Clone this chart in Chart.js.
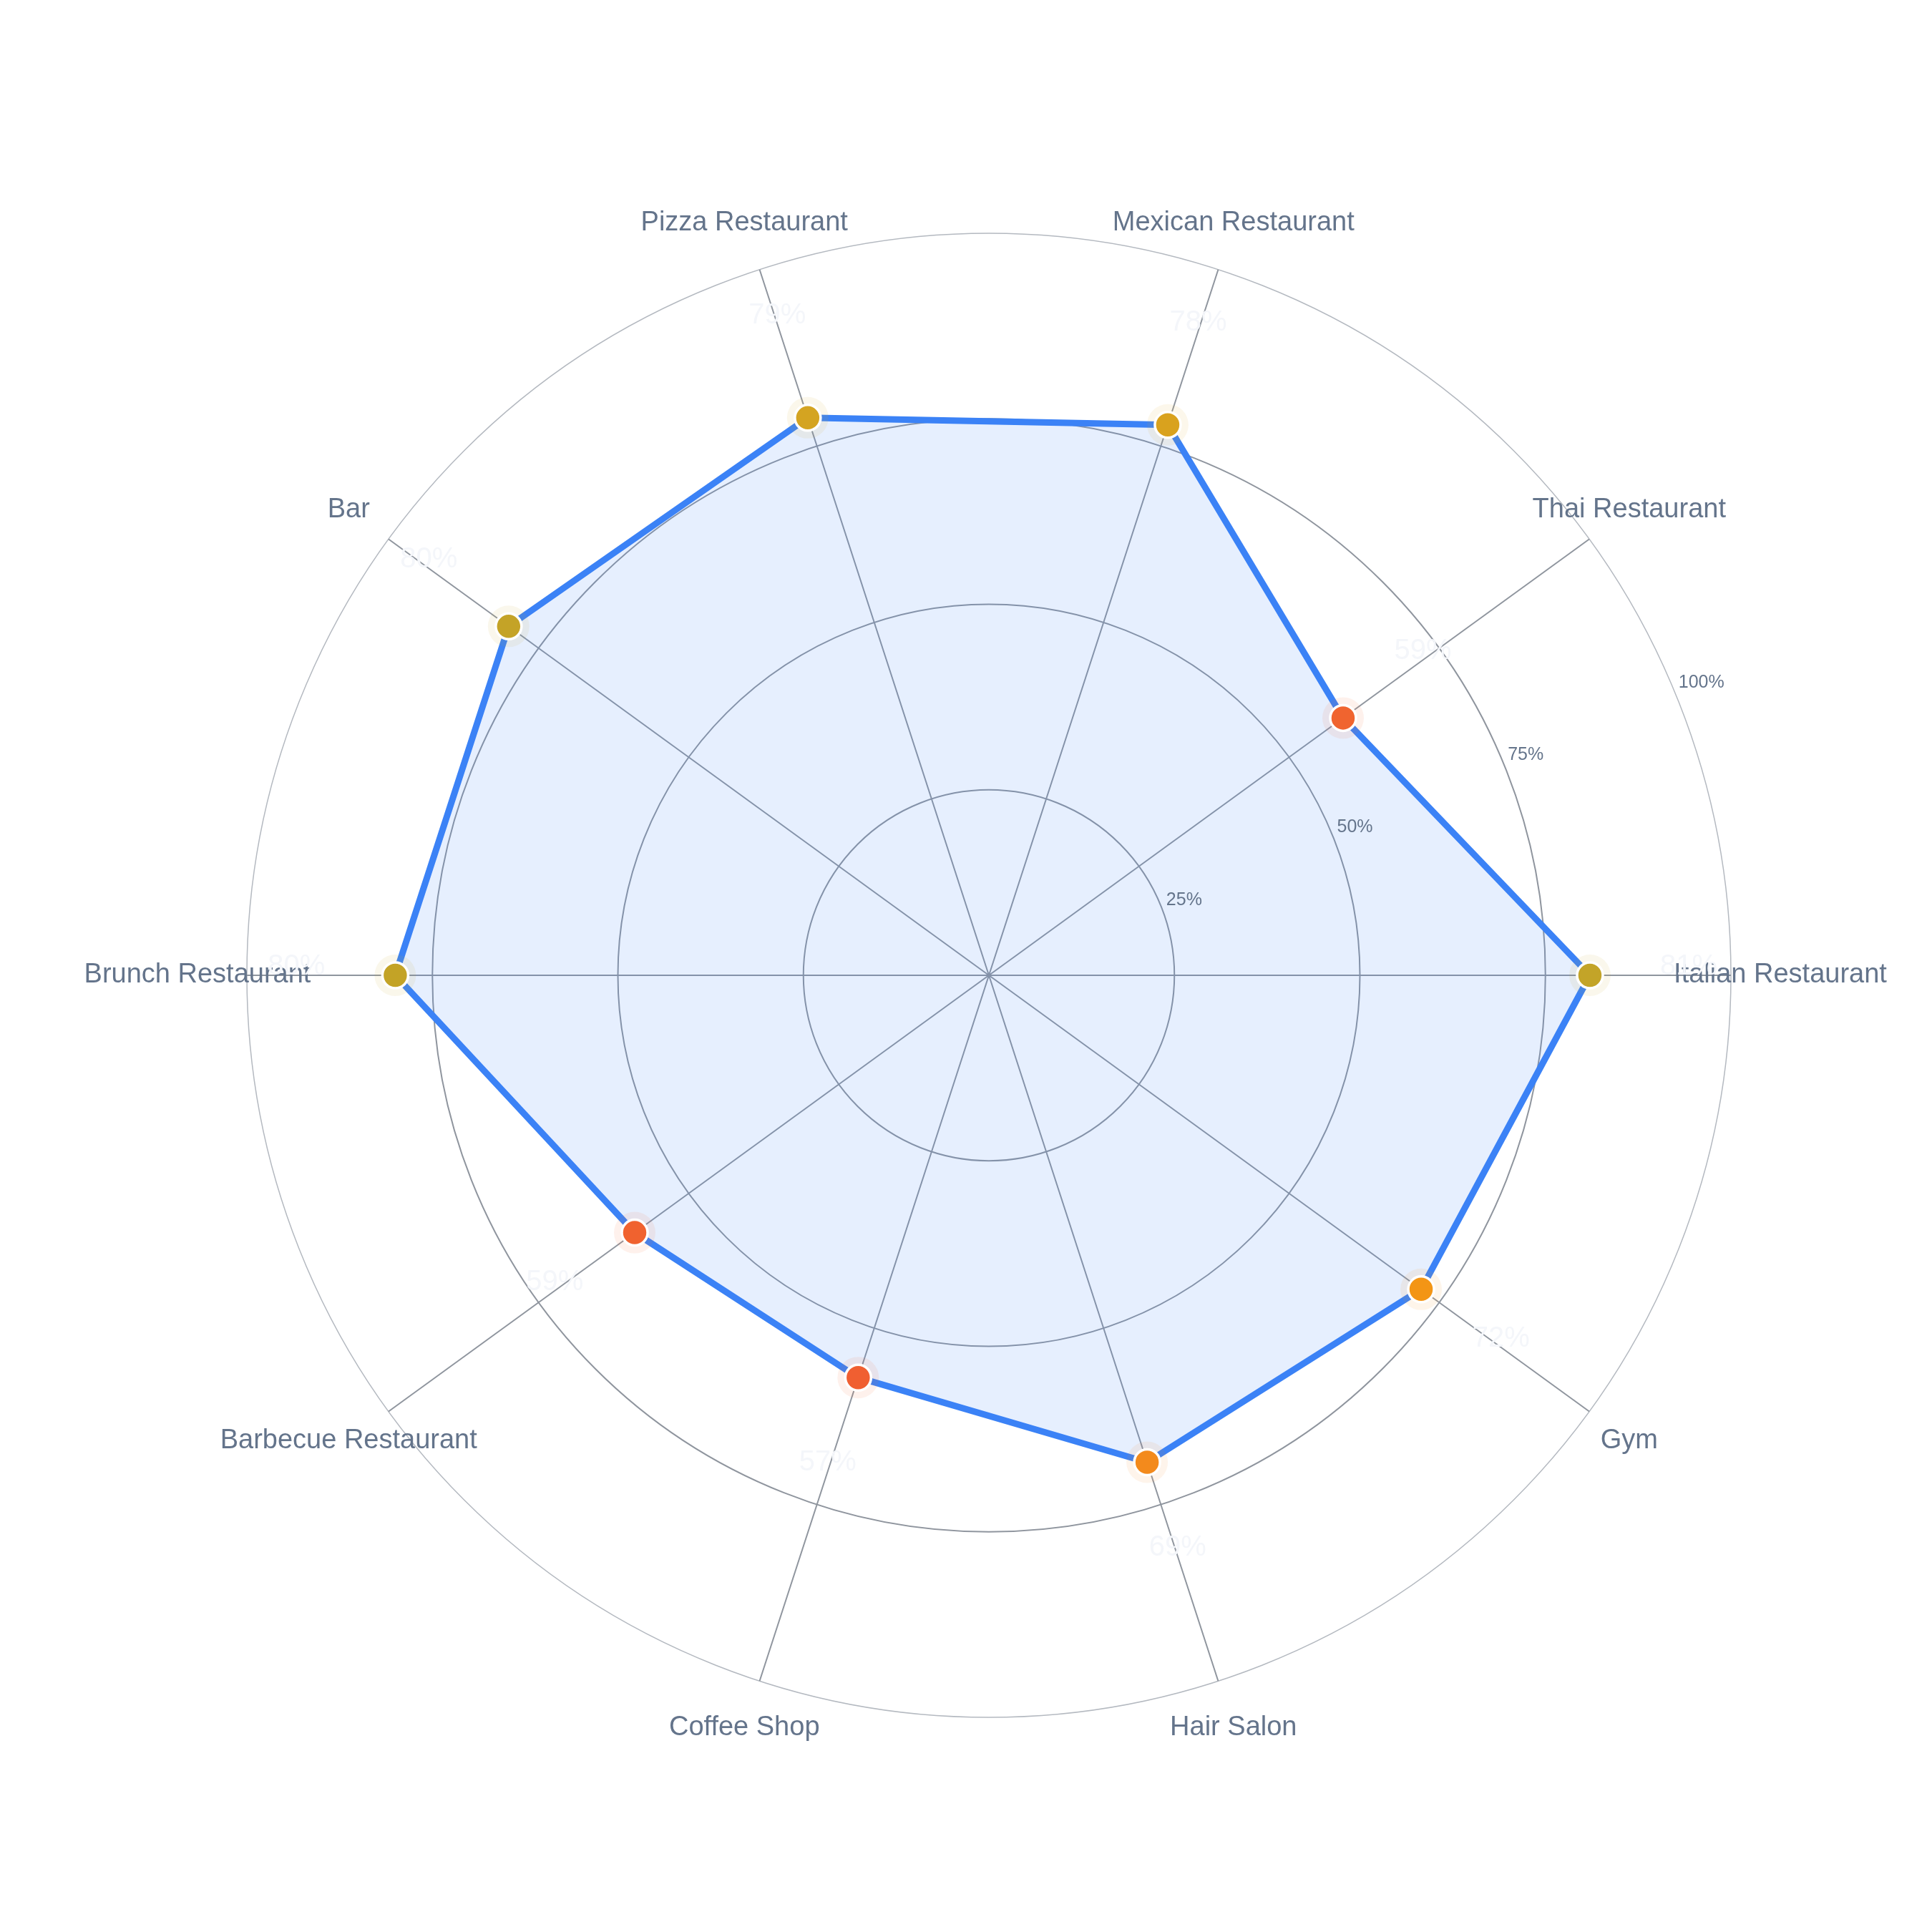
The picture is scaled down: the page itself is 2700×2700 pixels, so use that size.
<!DOCTYPE html>
<html>
<head>
<meta charset="utf-8">
<script src="https://cdn.jsdelivr.net/npm/chart.js@4.4.1/dist/chart.umd.min.js"></script>
<style>
  html, body { margin: 0; padding: 0; background: #ffffff; }
  #wrap { width: 2700px; height: 2700px; }
</style>
</head>
<body>
<div id="wrap"><canvas id="radarChart" width="2700" height="2700"></canvas></div>
<script>
// categories as they appear, counter-clockwise from the right
const categories = [
  "Italian Restaurant", "Thai Restaurant", "Mexican Restaurant", "Pizza Restaurant", "Bar",
  "Brunch Restaurant", "Barbecue Restaurant", "Coffee Shop", "Hair Salon", "Gym"
];
const scores = [81, 59, 78, 79, 80, 80, 59, 57, 69, 72];
const tickValues = [25, 50, 75, 100];
const tickLabels = ["25%", "50%", "75%", "100%"];
const pointColors = [
  "#c3a428", "#f0642f", "#d9a21e", "#d4a421", "#c4a327",
  "#c3a326", "#f0622f", "#f05f31", "#f38a1c", "#f39515"
];

// Chart.js walks clockwise, the reference goes counter-clockwise
const order = [0, 9, 8, 7, 6, 5, 4, 3, 2, 1];
const chartLabels = order.map((i) => categories[i]);
const chartScores = order.map((i) => scores[i]);
const chartColors = order.map((i) => pointColors[i]);

function withAlpha(hex, a) {
  const n = parseInt(hex.slice(1), 16);
  return `rgba(${(n >> 16) & 255}, ${(n >> 8) & 255}, ${n & 255}, ${a})`;
}

const FONT = "'Liberation Sans', Arial, Helvetica, sans-serif";

const labelPlugin = {
  id: "labelPlugin",
  afterDatasetsDraw(chart) {
    const r = chart.scales.r;
    const ctx = chart.ctx;
    ctx.save();

    // radial tick labels, along a ray slightly above the right axis
    ctx.font = `25px ${FONT}`;
    ctx.fillStyle = "#64748b";
    ctx.textAlign = "left";
    ctx.textBaseline = "middle";
    const a = (-23.0 * Math.PI) / 180;
    tickValues.forEach((v, i) => {
      const d = r.getDistanceFromCenterForValue(v) + 10;
      ctx.fillText(tickLabels[i], r.xCenter + Math.cos(a) * d, r.yCenter + Math.sin(a) * d);
    });

    // category labels
    ctx.font = `38px ${FONT}`;
    ctx.textAlign = "center";
    chartLabels.forEach((lab, i) => {
      const p = r.getPointPosition(i, r.drawingArea + 69);
      ctx.fillText(lab, p.x, p.y);
    });

    // faint value labels
    ctx.font = `40px ${FONT}`;
    ctx.fillStyle = "#f4f6fa";
    chartScores.forEach((v, i) => {
      const p = r.getPointPosition(i, r.getDistanceFromCenterForValue(v) + 138);
      ctx.fillText(v + "%", p.x, p.y - 12);
    });

    ctx.restore();
  },
};

const ctxRadar = document.getElementById("radarChart").getContext("2d");

const radarChart = new Chart(ctxRadar, {
  type: "radar",
  data: {
    labels: chartLabels,
    datasets: [
      {
        label: "line",
        data: chartScores,
        borderColor: "#3b82f6",
        borderWidth: 9,
        backgroundColor: "rgba(59, 130, 246, 0.13)",
        fill: true,
        pointRadius: 0,
        borderJoinStyle: "round",
        order: 3,
      },
      {
        label: "halo",
        data: chartScores,
        showLine: false,
        fill: false,
        backgroundColor: "transparent",
        pointRadius: 29,
        pointBorderWidth: 0,
        pointBackgroundColor: chartColors.map((c) => withAlpha(c, 0.09)),
        order: 2,
      },
      {
        label: "points",
        data: chartScores,
        showLine: false,
        fill: false,
        backgroundColor: "transparent",
        pointRadius: 18,
        pointBorderWidth: 3.5,
        pointBorderColor: "#ffffff",
        pointBackgroundColor: chartColors,
        order: 1,
      },
    ],
  },
  options: {
    responsive: false,
    animation: false,
    devicePixelRatio: 1,
    layout: {
      padding: { left: 345, right: 281, top: 326, bottom: 300 },
    },
    plugins: {
      legend: { display: false },
      tooltip: { enabled: false },
    },
    scales: {
      r: {
        startAngle: 90,
        min: 0,
        max: 100,
        ticks: { stepSize: 25, display: false },
        pointLabels: { display: false },
        grid: {
          circular: true,
          color: (c) => (c.index === 4 ? "#b4b9c0" : "#8f959e"),
          lineWidth: (c) => (c.index === 4 ? 1.5 : 2),
        },
        angleLines: { color: "#8f959e", lineWidth: 2 },
      },
    },
  },
  plugins: [labelPlugin],
});
</script>
</body>
</html>
